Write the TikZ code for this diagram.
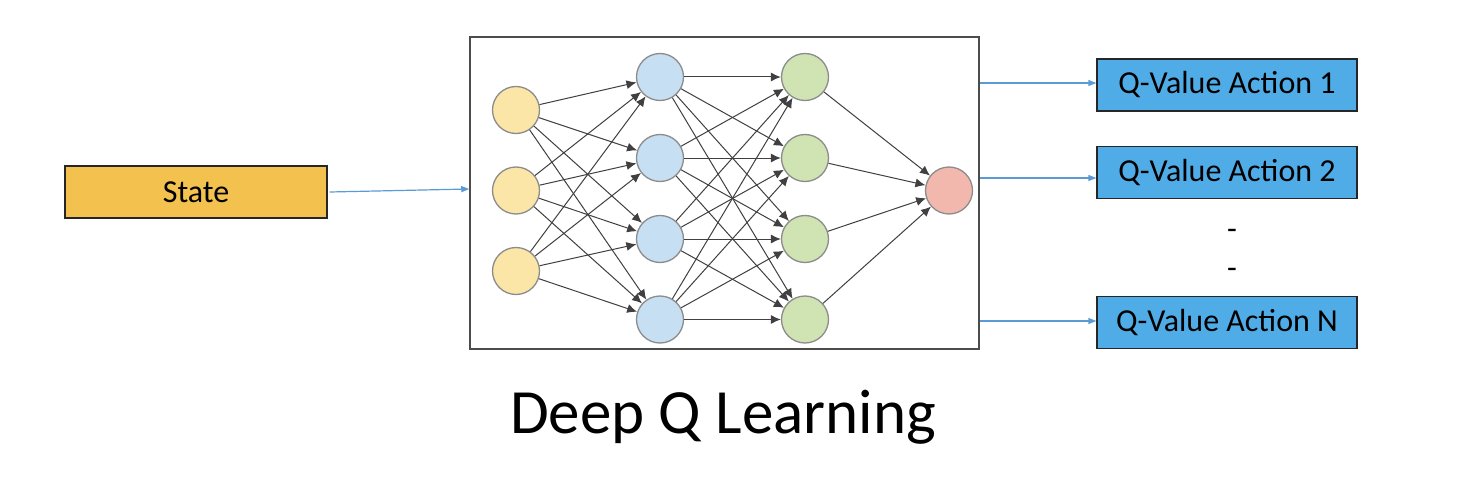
\documentclass[tikz,border=0pt]{standalone}
\usepackage{fontspec}
\setmainfont{Carlito}
\usetikzlibrary{arrows.meta}
\definecolor{yel}{HTML}{FBE6A8}
\definecolor{blu}{HTML}{C7DFF2}
\definecolor{grn}{HTML}{CFE4B2}
\definecolor{red}{HTML}{F2B8AD}
\definecolor{statef}{HTML}{F2C14E}
\definecolor{qf}{HTML}{50ACE6}
\definecolor{arr}{HTML}{5B9BD5}
\definecolor{edge}{HTML}{404040}
\tikzset{
  neuron/.style={circle, draw=black!45, line width=1.3pt, minimum size=47pt, inner sep=0pt},
  nn/.style={draw=edge, line width=1pt, -{Latex[length=10pt,width=9pt]}},
  outbox/.style={draw=black!85, line width=1.2pt, fill=qf, minimum width=260pt, minimum height=52pt, inner sep=0pt, font=\fontsize{32}{36}\selectfont},
  bluearrow/.style={draw=arr, line width=1.2pt, -{Triangle[length=8pt,width=6pt]}},
}
\begin{document}
\begin{tikzpicture}[x=1pt,y=-1pt]
\useasboundingbox (0,0) rectangle (1472,492);
\fill[white] (0,0) rectangle (1472,492);
% main box
\node[draw=black!70, line width=1.5pt, minimum width=509pt, minimum height=312pt, inner sep=0pt] (net) at (724.5,193) {};
% state
\node[draw=black!85, line width=1.2pt, fill=statef, minimum width=262pt, minimum height=52pt, inner sep=0pt, font=\fontsize{32}{36}\selectfont] (state) at (196,192) {State};
% outputs
\node[outbox] (q1) at (1227,85) {Q-Value Action 1};
\node[outbox] (q2) at (1227,172.5) {Q-Value Action 2};
\node[outbox] (qn) at (1227,322.5) {Q-Value Action N};
\node[font=\fontsize{32}{36}\selectfont] (d1) at (1232,234) {-};
\node[font=\fontsize{32}{36}\selectfont] (d2) at (1232,273) {-};
% neurons
\foreach \i/\y in {1/110,2/190.5,3/271} \node[neuron, fill=yel] (a\i) at (516,\y) {};
\foreach \i/\y in {1/77,2/158,3/239,4/319.5} \node[neuron, fill=blu] (b\i) at (660,\y) {};
\foreach \i/\y in {1/77,2/158,3/239,4/319.5} \node[neuron, fill=grn] (c\i) at (805,\y) {};
\node[neuron, fill=red] (r) at (949,190.5) {};
% edges
\foreach \i in {1,2,3} \foreach \j in {1,2,3,4} \draw[nn] (a\i) -- (b\j);
\foreach \i in {1,2,3,4} \foreach \j in {1,2,3,4} \draw[nn] (b\i) -- (c\j);
\foreach \i in {1,2,3,4} \draw[nn] (c\i) -- (r);
% io arrows
\coordinate (o1) at (980,83);
\coordinate (o2) at (980,178);
\coordinate (on) at (980,321);
\draw[bluearrow] (state.east) ++(2,0) -- (net.west |- 0,189);
\draw[bluearrow] (o1) -- (q1.west |- o1);
\draw[bluearrow] (o2) -- (q2.west |- o2);
\draw[bluearrow] (on) -- (qn.west |- on);
% title
\node[font=\fontsize{63}{70}\selectfont] (title) at (723,417) {Deep Q Learning};
\end{tikzpicture}
\end{document}
